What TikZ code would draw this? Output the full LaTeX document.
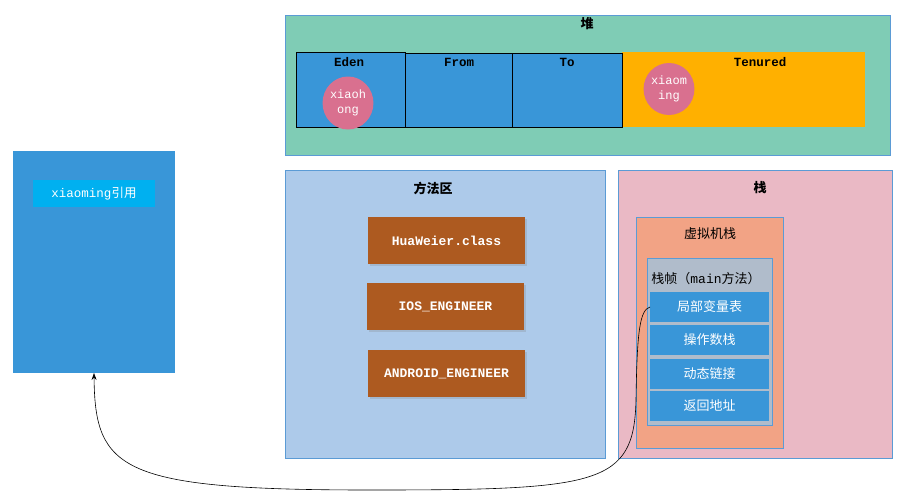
\documentclass[tikz,border=0pt]{standalone}
\usepackage{fontspec}
\setmainfont{Liberation Serif}
\newfontfamily\cjk{Noto Sans CJK SC}
\newfontfamily\mono{Liberation Mono}
\usetikzlibrary{shapes.geometric,arrows.meta,shadows}
\definecolor{heapfill}{RGB}{127,204,181}
\definecolor{edgeblue}{RGB}{91,155,213}
\definecolor{boxblue}{RGB}{57,150,216}
\definecolor{tenured}{RGB}{255,176,0}
\definecolor{pinkell}{RGB}{217,112,143}
\definecolor{cyanbox}{RGB}{0,176,240}
\definecolor{methodfill}{RGB}{173,202,234}
\definecolor{brown}{RGB}{173,90,32}
\definecolor{stackfill}{RGB}{234,185,197}
\definecolor{vmfill}{RGB}{242,163,133}
\definecolor{framefill}{RGB}{176,188,203}
\begin{document}
\begin{tikzpicture}[x=1pt,y=-1pt,
  every node/.style={inner sep=0pt,outer sep=0pt},
  region/.style={draw=edgeblue,line width=0.8pt,anchor=north west},
  gen/.style={draw=black,line width=0.9pt,fill=boxblue,anchor=north west,minimum height=74pt},
  ttl/.style={font=\cjk\bfseries\fontsize{13}{15}\selectfont},
  gtl/.style={font=\mono\bfseries\fontsize{12.5}{14}\selectfont},
  obj/.style={ellipse,fill=pinkell,text=white,align=center,font=\mono\fontsize{12}{15}\selectfont},
  cls/.style={fill=brown,anchor=north west,minimum width=157pt,minimum height=47pt,text=white,font=\mono\bfseries\fontsize{13}{15}\selectfont,drop shadow={opacity=0.25,shadow xshift=1.5pt,shadow yshift=-1.5pt}},
  slot/.style={fill=boxblue,anchor=north west,minimum width=119pt,minimum height=30pt,text=white,font=\cjk\fontsize{13}{15}\selectfont},
  link/.style={-{Stealth[length=7pt,width=5pt]},line width=0.6pt}
]
\useasboundingbox (0,0) rectangle (905,498);
% heap
\node[region,fill=heapfill,minimum width=605pt,minimum height=140pt] (heap) at (285,15) {};
\node[ttl] (heapt) at (587,24) {堆};
\node[fill=tenured,anchor=north west,minimum width=243pt,minimum height=75pt] (ten) at (622,52) {};
\node[gen,minimum width=110pt] (to) at (512,53) {};
\node[gen,minimum width=107pt] (from) at (405,53) {};
\node[gen,minimum width=109pt,minimum height=75pt] (eden) at (296,52) {};
\node[gtl] (edent) at (349,62) {Eden};
\node[gtl] (fromt) at (459,62) {From};
\node[gtl] (tot) at (567,62) {To};
\node[gtl] (tent) at (760,62) {Tenured};
\node[obj,minimum width=48pt,minimum height=53pt] (xh) at (348,103) {xiaoh\\ong};
\node[obj,minimum width=43pt,minimum height=52pt] (xm) at (669,89) {xiaom\\ing};
% left reference box
\node[fill=boxblue,anchor=north west,minimum width=162pt,minimum height=222pt] (ref) at (13,151) {};
\node[fill=cyanbox,anchor=north west,minimum width=122pt,minimum height=27pt,text=white] (refin) at (33,180) {\mono\fontsize{12.5}{14}\selectfont xiaoming\cjk 引用};
% method area
\node[region,fill=methodfill,minimum width=320pt,minimum height=288pt] (method) at (285,170) {};
\node[ttl] (methodt) at (433,188) {方法区};
\node[cls] (c1) at (368,217) {HuaWeier.class};
\node[cls] (c2) at (367,283) {IOS\_ENGINEER};
\node[cls] (c3) at (368,350) {ANDROID\_ENGINEER};
% stack
\node[region,fill=stackfill,minimum width=274pt,minimum height=288pt] (stack) at (618,170) {};
\node[ttl] (stackt) at (760,188) {栈};
\node[region,fill=vmfill,minimum width=147pt,minimum height=231pt] (vm) at (636,217) {};
\node[font=\cjk\fontsize{13}{15}\selectfont] (vmt) at (710,234) {虚拟机栈};
\node[region,fill=framefill,minimum width=125pt,minimum height=167pt] (frame) at (647,258) {};
\node[font=\cjk\fontsize{13}{15}\selectfont] (framet) at (706,279) {栈帧（\mono main\cjk 方法）};
\node[slot] (lvt) at (650,292) {局部变量表};
\node[slot] (ops) at (650,325) {操作数栈};
\node[slot] (dyn) at (650,359) {动态链接};
\node[slot] (ret) at (650,391) {返回地址};
% reference link
\draw[link] (lvt.west) .. controls (640,310) and (637,330) .. (636,400)
  .. controls (634,485) and (600,490) .. (370,490)
  .. controls (120,490) and (95,470) .. (ref.south);
\end{tikzpicture}
\end{document}
